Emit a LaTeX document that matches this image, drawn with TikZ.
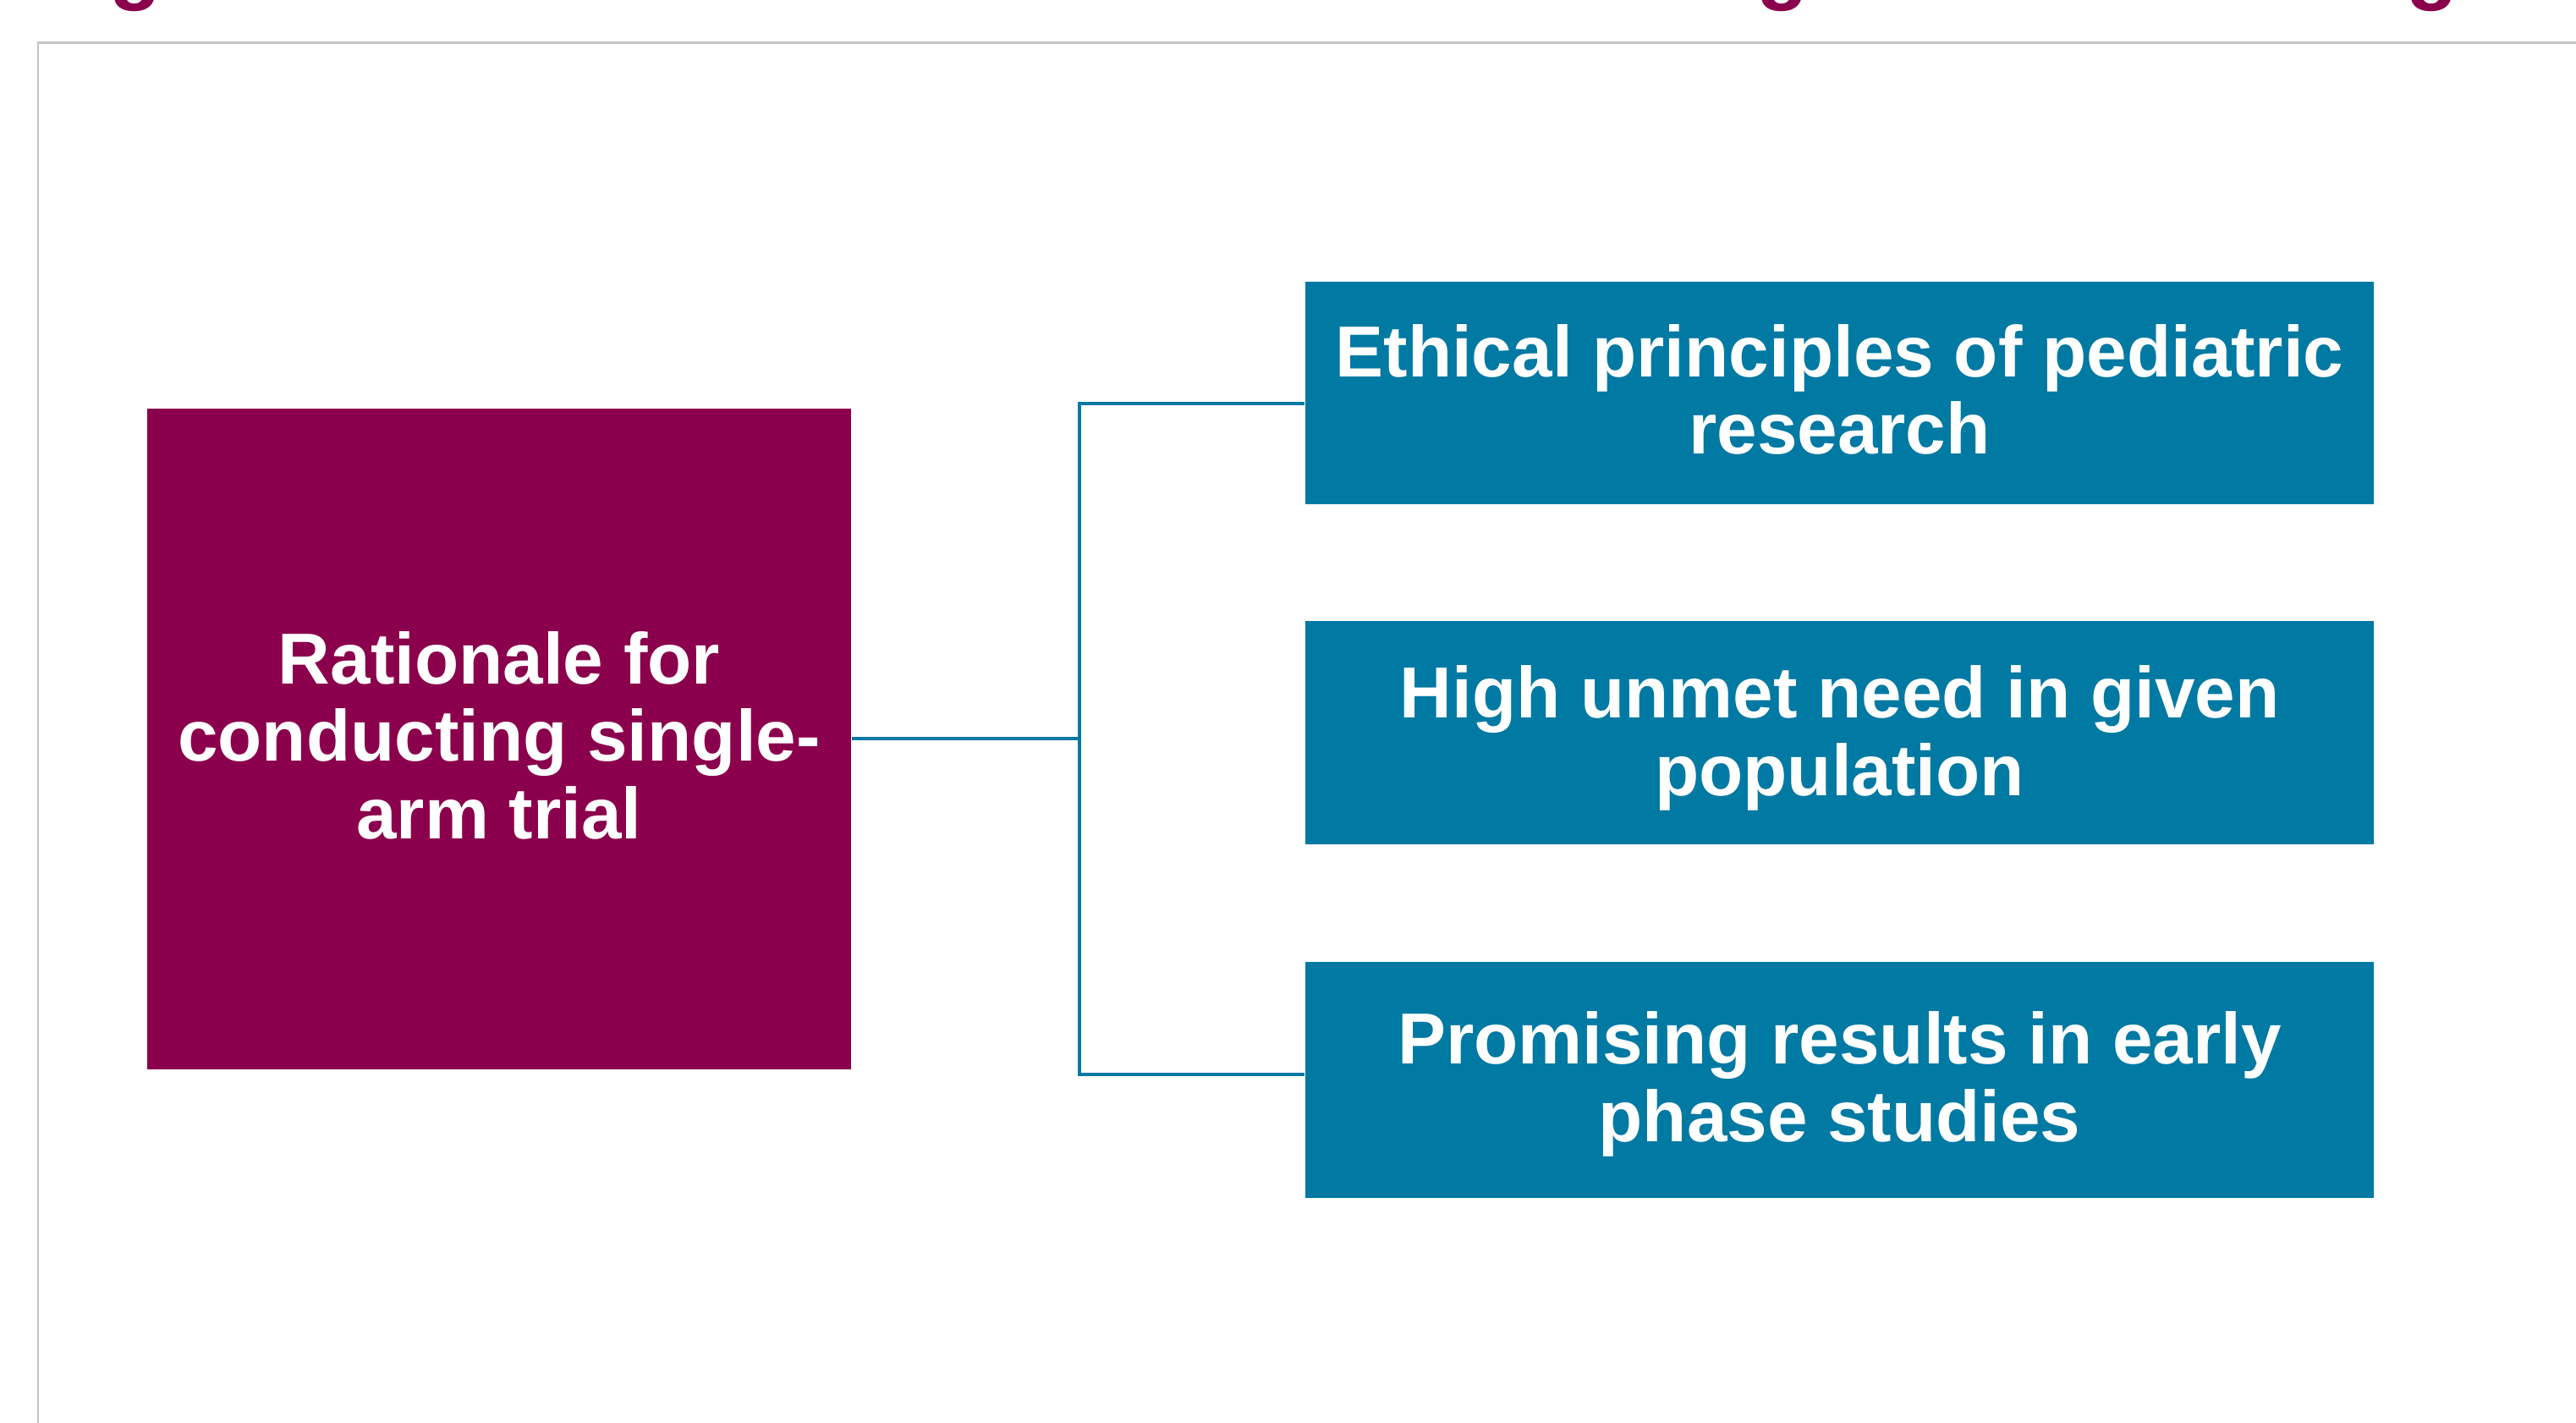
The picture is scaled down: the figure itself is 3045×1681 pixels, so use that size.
\documentclass[tikz,border=0pt]{standalone}
\usepackage{fontspec}
\setmainfont{Liberation Sans}
\usetikzlibrary{calc}

\definecolor{plum}{RGB}{139,0,76}
\definecolor{boxteal}{RGB}{0,121,163}
\definecolor{framegray}{RGB}{196,196,196}

\tikzset{
  boxtext/.style={text=white, align=center, inner sep=0pt,
    font=\fontsize{24.3}{26.1}\selectfont\bfseries},
  rootbox/.style={fill=plum, inner sep=0pt, minimum width=8.32cm, minimum height=7.80cm},
  reasonbox/.style={fill=boxteal, inner sep=0pt, minimum width=12.63cm},
  link/.style={draw=boxteal, line width=0.04cm},
  titlefrag/.style={text=plum, anchor=base, inner sep=0pt,
    font=\fontsize{28.5}{30}\selectfont\bfseries},
}

\begin{document}
\begin{tikzpicture}[x=0.01cm, y=-0.01cm]
  \useasboundingbox (0,0) rectangle (3045,1681);
  \clip (0,0) rectangle (3045,1681);
  \fill[white] (0,0) rectangle (3045,1681);

  % descenders of the heading line above the panel
  \node[titlefrag] (ga) at (160,-8) {g};
  \node[titlefrag] (gb) at (2107,-8) {g};
  \node[titlefrag] (gc) at (2875,-8) {g};

  % panel frame
  \draw[framegray, line width=0.025cm] (45,50.5) rectangle (3200,1800);

  % root box
  \node[rootbox] (main) at (590,873.3) {};
  \node[boxtext] (t0) at ($(main.center)+(0,-4)$)
    {Rationale for\\conducting single-\\arm trial};

  % reason boxes
  \node[reasonbox, minimum height=2.633cm] (b1) at (2174.5,464.4) {};
  \node[reasonbox, minimum height=2.643cm] (b2) at (2174.5,866.2) {};
  \node[reasonbox, minimum height=2.79cm] (b3) at (2174.5,1276.2) {};
  \node[boxtext] (t1) at ($(b1.center)+(0,-4)$)
    {Ethical principles of pediatric\\research};
  \node[boxtext] (t2) at ($(b2.center)+(0,6)$)
    {High unmet need in given\\population};
  \node[boxtext] (t3) at ($(b3.center)+(0,5)$)
    {Promising results in early\\phase studies};

  % connectors
  \coordinate (hub) at (1276,873.3);
  \draw[link] (main.east) -- (hub);
  \draw[link] ($(b1.west)+(0,12.3)$) -| (hub) |- ($(b3.west)+(0,-6.2)$);
\end{tikzpicture}
\end{document}
